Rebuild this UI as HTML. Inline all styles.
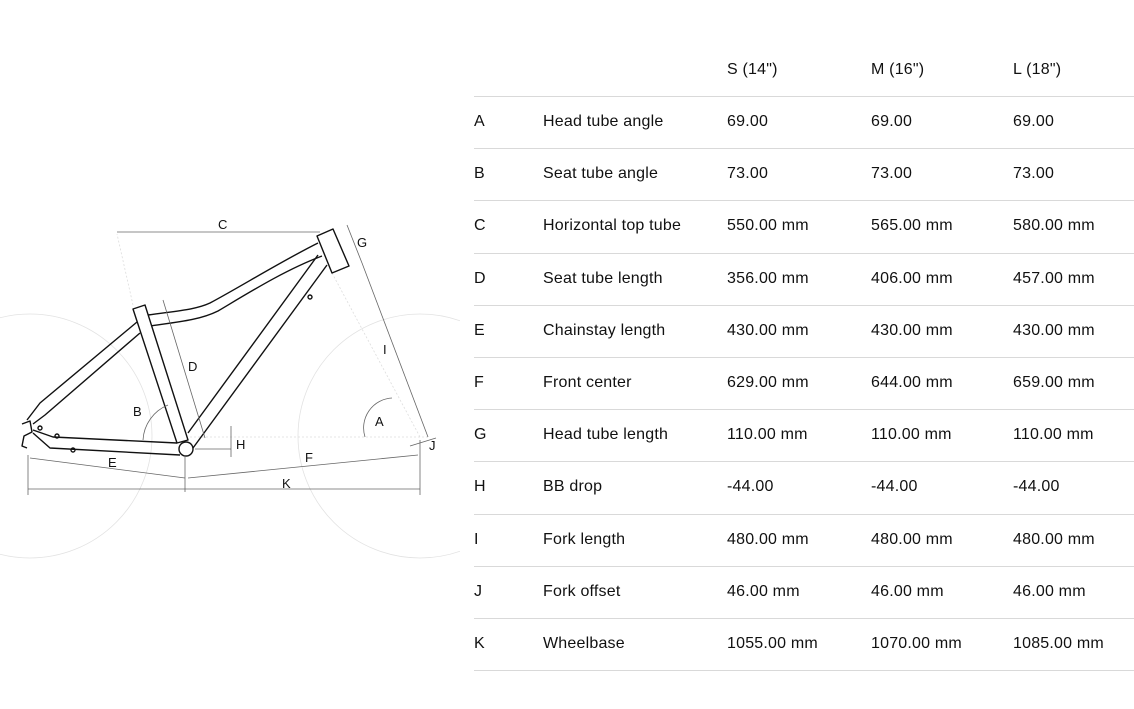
<!DOCTYPE html>
<html><head><meta charset="utf-8"><style>
html,body{margin:0;padding:0;background:#fff;}
#w{position:relative;width:1134px;height:709px;overflow:hidden;font-family:"Liberation Sans",sans-serif;color:#111;}
.t{position:absolute;font-size:16px;line-height:20px;white-space:nowrap;letter-spacing:0.2px;}
.l{position:absolute;left:474px;width:660px;height:1px;background:#d9d9d9;}
svg{position:absolute;left:0;top:0;}
</style></head><body><div id="w">
<svg width="460" height="709" viewBox="0 0 460 709">
<g fill="none" stroke="#e2e2e2" stroke-width="0.8">
<circle cx="30" cy="436" r="122"/>
<circle cx="420" cy="436" r="122"/>
</g>
<g fill="none" stroke="#ddd" stroke-width="0.8" stroke-dasharray="2,2">
<line x1="190" y1="437" x2="430" y2="437"/>
<line x1="133" y1="305" x2="117" y2="234"/>
<line x1="332" y1="273" x2="420" y2="437"/>
</g>
<g fill="none" stroke="#111" stroke-width="1.4" stroke-linejoin="round">
<polygon points="317,236 333,229 349,266 332,273" fill="#fff"/>
<path d="M148,315 C175,311 195,310 210,303 C240,287 280,262 318,243"/>
<path d="M150,326 C178,322 200,320 218,311 C250,292 285,270 322,256"/>
<polygon points="133,309 145,305 188,440 177,443" fill="#fff"/>
<path d="M318,255 L188,433"/>
<path d="M327,265 L193,448"/>
<path d="M137,322 L40,403 L27,420"/>
<path d="M140,333 L45,415 L33,424"/>
<path d="M33,430 L53,437 L177,443"/>
<path d="M33,433 L50,448 L180,455"/>
<path d="M22,424 L30,421 L32,432 L24,436 L22,446 L27,448"/>
<circle cx="186" cy="449" r="7" fill="#fff"/>
<circle cx="73" cy="450" r="2"/><circle cx="40" cy="428" r="2"/><circle cx="57" cy="436" r="2"/><circle cx="310" cy="297" r="2"/>
</g>
<g fill="none" stroke="#666" stroke-width="0.8">
<line x1="117" y1="232" x2="320" y2="232"/>
<line x1="347" y1="225" x2="362" y2="263"/>
<line x1="362" y1="263" x2="428" y2="437"/>
<line x1="163" y1="300" x2="205" y2="438"/>
<line x1="231" y1="426" x2="231" y2="457"/>
<line x1="195" y1="449" x2="231" y2="449"/>
<line x1="30" y1="458" x2="185" y2="478"/>
<line x1="188" y1="478" x2="418" y2="455"/>
<line x1="28" y1="489" x2="420" y2="489"/>
<line x1="28" y1="455" x2="28" y2="495"/>
<line x1="185" y1="455" x2="185" y2="492"/>
<line x1="420" y1="440" x2="420" y2="495"/>
<line x1="410" y1="446" x2="436" y2="438"/>
<path d="M365,437 A30,30 0 0 1 392,398"/>
<path d="M143,440 A40,40 0 0 1 168,405"/>
</g>
<g font-family="Liberation Sans,sans-serif" font-size="13" fill="#111">
<text x="218" y="229">C</text><text x="357" y="247">G</text><text x="383" y="354">I</text>
<text x="188" y="371">D</text><text x="133" y="416">B</text><text x="375" y="426">A</text>
<text x="236" y="449">H</text><text x="429" y="450">J</text><text x="108" y="467">E</text>
<text x="305" y="462">F</text><text x="282" y="488">K</text>
</g>
</svg>
<div class="t" style="left:727px;top:60px">S (14")</div>
<div class="t" style="left:871px;top:60px">M (16")</div>
<div class="t" style="left:1013px;top:60px">L (18")</div>
<div class="l" style="top:96px"></div>
<div class="t" style="left:474px;top:112px">A</div><div class="t" style="left:543px;top:112px">Head tube angle</div><div class="t" style="left:727px;top:112px">69.00</div><div class="t" style="left:871px;top:112px">69.00</div><div class="t" style="left:1013px;top:112px">69.00</div>
<div class="l" style="top:148px"></div>
<div class="t" style="left:474px;top:164px">B</div><div class="t" style="left:543px;top:164px">Seat tube angle</div><div class="t" style="left:727px;top:164px">73.00</div><div class="t" style="left:871px;top:164px">73.00</div><div class="t" style="left:1013px;top:164px">73.00</div>
<div class="l" style="top:200px"></div>
<div class="t" style="left:474px;top:216px">C</div><div class="t" style="left:543px;top:216px">Horizontal top tube</div><div class="t" style="left:727px;top:216px">550.00 mm</div><div class="t" style="left:871px;top:216px">565.00 mm</div><div class="t" style="left:1013px;top:216px">580.00 mm</div>
<div class="l" style="top:253px"></div>
<div class="t" style="left:474px;top:269px">D</div><div class="t" style="left:543px;top:269px">Seat tube length</div><div class="t" style="left:727px;top:269px">356.00 mm</div><div class="t" style="left:871px;top:269px">406.00 mm</div><div class="t" style="left:1013px;top:269px">457.00 mm</div>
<div class="l" style="top:305px"></div>
<div class="t" style="left:474px;top:321px">E</div><div class="t" style="left:543px;top:321px">Chainstay length</div><div class="t" style="left:727px;top:321px">430.00 mm</div><div class="t" style="left:871px;top:321px">430.00 mm</div><div class="t" style="left:1013px;top:321px">430.00 mm</div>
<div class="l" style="top:357px"></div>
<div class="t" style="left:474px;top:373px">F</div><div class="t" style="left:543px;top:373px">Front center</div><div class="t" style="left:727px;top:373px">629.00 mm</div><div class="t" style="left:871px;top:373px">644.00 mm</div><div class="t" style="left:1013px;top:373px">659.00 mm</div>
<div class="l" style="top:409px"></div>
<div class="t" style="left:474px;top:425px">G</div><div class="t" style="left:543px;top:425px">Head tube length</div><div class="t" style="left:727px;top:425px">110.00 mm</div><div class="t" style="left:871px;top:425px">110.00 mm</div><div class="t" style="left:1013px;top:425px">110.00 mm</div>
<div class="l" style="top:461px"></div>
<div class="t" style="left:474px;top:477px">H</div><div class="t" style="left:543px;top:477px">BB drop</div><div class="t" style="left:727px;top:477px">-44.00</div><div class="t" style="left:871px;top:477px">-44.00</div><div class="t" style="left:1013px;top:477px">-44.00</div>
<div class="l" style="top:514px"></div>
<div class="t" style="left:474px;top:530px">I</div><div class="t" style="left:543px;top:530px">Fork length</div><div class="t" style="left:727px;top:530px">480.00 mm</div><div class="t" style="left:871px;top:530px">480.00 mm</div><div class="t" style="left:1013px;top:530px">480.00 mm</div>
<div class="l" style="top:566px"></div>
<div class="t" style="left:474px;top:582px">J</div><div class="t" style="left:543px;top:582px">Fork offset</div><div class="t" style="left:727px;top:582px">46.00 mm</div><div class="t" style="left:871px;top:582px">46.00 mm</div><div class="t" style="left:1013px;top:582px">46.00 mm</div>
<div class="l" style="top:618px"></div>
<div class="t" style="left:474px;top:634px">K</div><div class="t" style="left:543px;top:634px">Wheelbase</div><div class="t" style="left:727px;top:634px">1055.00 mm</div><div class="t" style="left:871px;top:634px">1070.00 mm</div><div class="t" style="left:1013px;top:634px">1085.00 mm</div>
<div class="l" style="top:670px"></div>
</div></body></html>
